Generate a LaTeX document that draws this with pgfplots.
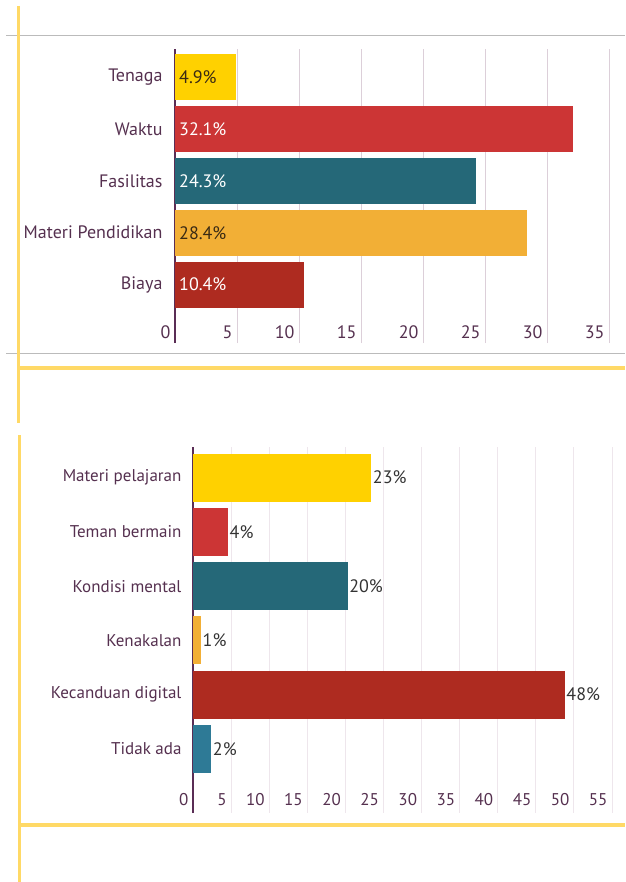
\documentclass[border=0pt]{standalone}
\usepackage{fontspec}
\setmainfont{PT Sans}
\usepackage{pgfplots}
\pgfplotsset{compat=1.18}

\definecolor{cYel}{HTML}{FFD100}
\definecolor{cRed}{HTML}{CC3535}
\definecolor{cTeal}{HTML}{256878}
\definecolor{cOra}{HTML}{F2AF36}
\definecolor{cDred}{HTML}{AE2B20}
\definecolor{cBlue}{HTML}{2E7A96}
\definecolor{txt}{HTML}{55304F}
\definecolor{valdark}{HTML}{3A2A14}
\definecolor{val2}{HTML}{333333}
\definecolor{axcol}{HTML}{5A2D55}
\definecolor{gridA}{HTML}{DCCFD9}
\definecolor{gridB}{HTML}{EEE6EC}
\definecolor{frameY}{HTML}{FFD966}
\definecolor{frameG}{HTML}{BBBBBB}

\pgfplotsset{
  hbar/.style={xbar, bar shift=0pt, draw=none, fill=#1},
  common/.style={
    scale only axis,
    axis lines=left,
    x axis line style={draw=none},
    y axis line style={draw=axcol, line width=2pt, -},
    xmajorgrids,
    major tick length=0pt,
    tick label style={text=txt},
    /pgf/number format/assume math mode=true,
    clip=false,
  },
}

\begin{document}
\begin{tikzpicture}
\path[use as bounding box] (0pt,0pt) rectangle (625pt,-882pt);

% frame lines
\begin{scope}[x=1pt, y=-1pt]
\draw[frameG, line width=1pt] (6,36) -- (625,36);
\draw[frameG, line width=1pt] (6,353) -- (625,353);
\draw[frameY, line width=3pt] (18,6) -- (18,423);
\draw[frameY, line width=4pt] (18,368) -- (625,368);
\draw[frameY, line width=3pt] (19,435) -- (19,882);
\draw[frameY, line width=4pt] (19,825) -- (625,825);
\end{scope}

% top chart
\begin{axis}[
  common,
  at={(175pt,-343pt)}, anchor=south west,
  width=434pt, height=294pt,
  xmin=0, xmax=35, ymin=-1.125, ymax=4.54,
  xtick={0,5,...,35},
  ytick={0,...,4},
  yticklabels={Biaya, Materi Pendidikan, Fasilitas, Waktu, Tenaga},
  grid style={gridA, line width=1pt},
  tick label style={font=\fontsize{18}{21}\selectfont},
  xticklabel style={anchor=east, xshift=-1pt, yshift=11pt},
  yticklabel style={anchor=east, xshift=-9pt},
]
\addplot[hbar=cYel, bar width=46pt] coordinates {(4.9,4)};
\addplot[hbar=cRed, bar width=46pt] coordinates {(32.1,3)};
\addplot[hbar=cTeal, bar width=46pt] coordinates {(24.3,2)};
\addplot[hbar=cOra, bar width=46pt] coordinates {(28.4,1)};
\addplot[hbar=cDred, bar width=46pt] coordinates {(10.4,0)};
\addplot[only marks, mark=*, mark size=0pt, draw=none,
  nodes near coords, point meta=explicit symbolic,
  nodes near coords style={anchor=west, inner sep=4pt, text=white, font=\fontsize{18}{21}\selectfont}]
  coordinates {(0,3)[32.1\%] (0,2)[24.3\%] (0,0)[10.4\%]};
\addplot[only marks, mark=*, mark size=0pt, draw=none,
  nodes near coords, point meta=explicit symbolic,
  nodes near coords style={anchor=west, inner sep=4pt, text=valdark, font=\fontsize{18}{21}\selectfont}]
  coordinates {(0,4)[4.9\%] (0,1)[28.4\%]};
\end{axis}

% bottom chart
\begin{axis}[
  common,
  at={(193pt,-813pt)}, anchor=south west,
  width=419pt, height=366pt,
  xmin=0, xmax=55, ymin=-1.18, ymax=5.562,
  xtick={0,5,...,55},
  ytick={0,...,5},
  yticklabels={Tidak ada, Kecanduan digital, Kenakalan, Kondisi mental, Teman bermain, Materi pelajaran},
  grid style={gridB, line width=1pt},
  tick label style={font=\fontsize{17}{20}\selectfont},
  xticklabel style={anchor=east, xshift=-1pt, yshift=13pt},
  yticklabel style={anchor=east, xshift=-8pt},
  nodes near coords style={anchor=west, inner sep=1.5pt, text=val2, font=\fontsize{18}{21}\selectfont},
]
\addplot[hbar=cYel, bar width=48pt, nodes near coords={23\%}] coordinates {(23.4,5)};
\addplot[hbar=cRed, bar width=48pt, nodes near coords={4\%}] coordinates {(4.6,4)};
\addplot[hbar=cTeal, bar width=48pt, nodes near coords={20\%}] coordinates {(20.3,3)};
\addplot[hbar=cOra, bar width=48pt, nodes near coords={1\%}] coordinates {(1.05,2)};
\addplot[hbar=cDred, bar width=48pt, nodes near coords={48\%}] coordinates {(48.8,1)};
\addplot[hbar=cBlue, bar width=48pt, nodes near coords={2\%}] coordinates {(2.4,0)};
\end{axis}
\end{tikzpicture}
\end{document}
